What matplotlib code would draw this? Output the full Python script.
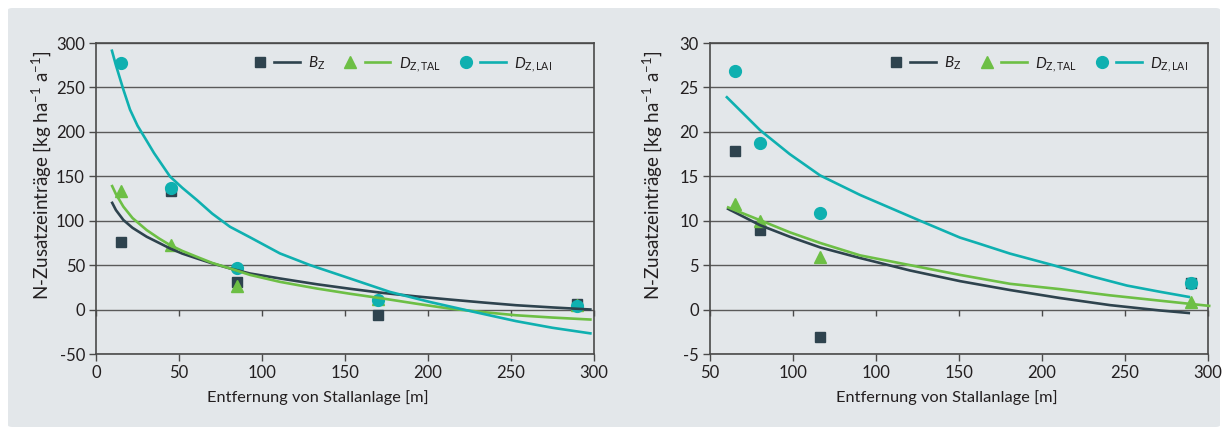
import matplotlib
matplotlib.use("Agg")
import matplotlib.pyplot as plt
from matplotlib.lines import Line2D
from matplotlib.legend_handler import HandlerTuple
from matplotlib.patches import FancyBboxPatch

plt.rcParams['font.family'] = ['Lato', 'DejaVu Sans']
plt.rcParams['mathtext.fontset'] = 'custom'
plt.rcParams['mathtext.rm'] = 'Lato'
plt.rcParams['mathtext.it'] = 'Lato:italic'
plt.rcParams['mathtext.bf'] = 'Lato:bold'
plt.rcParams['axes.unicode_minus'] = False

# ---------------- data: left panel ----------------
x_pts_left = [15, 45, 85, 170, 290]
bz_left = [76, 133, 31, -6, 6]
tal_left = [133, 73, 26, 12, 5]
lai_left = [277, 137, 47, 11, 4]

bz_curve_x_left = [9.4, 12, 16.5, 22, 30.5, 38, 44.6, 52, 60.7, 70, 80.7, 92.8, 110.8, 133, 153, 173, 193, 213, 233, 253, 275, 298.6]
bz_curve_y_left = [121.4, 112, 100.8, 92, 82, 75, 68.8, 63, 57.6, 52, 46.3, 40.6, 35, 28.5, 23.4, 18.7, 14.8, 11.3, 8, 4.9, 2.4, 0]
tal_curve_x_left = [9.4, 12, 16.5, 22, 30.5, 38, 44.6, 52, 60.7, 70, 80.7, 92.8, 110.8, 133, 153, 173, 193, 213, 233, 253, 275, 298.6]
tal_curve_y_left = [140.3, 130, 115.8, 103, 89.5, 80, 72.6, 66, 59.4, 52.5, 46.3, 39, 31.2, 23.7, 17.8, 12.4, 6.6, 1.1, -2.8, -6.4, -9, -11.3]
lai_curve_x_left = [9.4, 12, 16.5, 20.5, 25, 30.5, 35, 44.6, 52, 60.7, 70, 80.7, 92.8, 110.8, 129, 153, 177, 201, 225, 253, 275, 298.6]
lai_curve_y_left = [292.7, 275, 247.5, 225, 207, 190, 176, 149.7, 137, 123.4, 108, 93.2, 81.3, 63.2, 50, 35, 19.9, 8.6, -1.5, -13, -20.5, -27]

xticks_left = [0, 50, 100, 150, 200, 250, 300]
yticks_left = [-50, 0, 50, 100, 150, 200, 250, 300]

# ---------------- data: right panel ----------------
x_pts_right = [65, 80, 116, 340]
bz_right = [17.9, 8.9, -3.1, 3.0]
tal_right = [11.9, 10.0, 5.9, 0.9]
lai_right = [26.8, 18.7, 10.9, 3.0]

bz_curve_x_right = [60.2, 80.1, 98, 116.3, 140.4, 170.5, 200.6, 230.7, 260.8, 291, 321.1, 339.2]
bz_curve_y_right = [11.4, 9.5, 8.2, 7.0, 5.8, 4.4, 3.2, 2.2, 1.3, 0.5, -0.1, -0.4]
tal_curve_x_right = [60.2, 80.1, 98, 116.3, 140.4, 170.5, 200.6, 230.7, 260.8, 291, 321.1, 351.5]
tal_curve_y_right = [11.55, 10.06, 8.7, 7.5, 6.1, 5.0, 3.9, 2.9, 2.3, 1.6, 1.0, 0.4]
lai_curve_x_right = [59.6, 80.1, 98, 116.3, 140.4, 176.5, 200.6, 210.8, 230.7, 256.6, 280.7, 301.2, 321.1, 339.2]
lai_curve_y_right = [24.0, 20.2, 17.5, 15.1, 12.9, 10.0, 8.1, 7.5, 6.3, 5.0, 3.7, 2.7, 2.0, 1.4]

xticks_right = [50, 100, 150, 200, 250, 300, 350]
xticklabels_right = ['50', '100', '100', '150', '200', '250', '300']
yticks_right = [-5, 0, 5, 10, 15, 20, 25, 30]

legend_labels = [r'$B_{\mathrm{Z}}$', r'$D_{\mathrm{Z,TAL}}$', r'$D_{\mathrm{Z,LAI}}$']
xlabel = 'Entfernung von Stallanlage [m]'
ylabel = 'N-Zusatzeinträge [kg ha$^{-1}$ a$^{-1}$]'

# ---------------- style ----------------
C_DARK = '#2e434e'
C_GREEN = '#6dbf45'
C_CYAN = '#0fb0b0'
BG = '#e3e7ea'
GRID = '#5a5a5a'
SPINE = '#4a4a4a'
TEXT = '#231f20'

W, H = 1228, 436
fig = plt.figure(figsize=(W / 100, H / 100), dpi=100, facecolor='white')
bg = FancyBboxPatch((8 / W, 9 / H), (1212) / W, (419) / H,
                    boxstyle='round,pad=0,rounding_size=0.004',
                    transform=fig.transFigure, facecolor=BG, edgecolor='none', zorder=-10)
fig.patches.append(bg)

ax1 = fig.add_axes([96 / W, 1 - 354 / H, 498 / W, 311 / H])
ax2 = fig.add_axes([710 / W, 1 - 354 / H, 498 / W, 311 / H])
ax1.set_zorder(5)
ax2.set_zorder(5)


def style_axis(ax, xticks, yticks, ylim, xlim):
    ax.set_facecolor('none')
    ax.set_xlim(*xlim)
    ax.set_ylim(*ylim)
    ax.set_xticks(xticks)
    ax.set_yticks(yticks)
    for sp in ax.spines.values():
        sp.set_color(SPINE)
        sp.set_linewidth(1.2)
    ax.yaxis.grid(True, color=GRID, linewidth=1.0)
    ax.set_axisbelow(True)
    ax.tick_params(axis='both', direction='out', length=5, width=1.0, color=SPINE,
                   labelsize=12, labelcolor=TEXT, pad=3)
    # tick marks on the zero line
    ax.plot(xticks, [0] * len(xticks), linestyle='none', marker=3, markersize=4.2,
            markeredgewidth=1.0, color=SPINE, clip_on=False, zorder=2)


def draw(ax, xp, bz, tal, lai, cbx, cby, ctx, cty, clx, cly, tal_clip=True):
    ax.plot(xp, bz, linestyle='none', marker='s', markersize=7.5, color=C_DARK, zorder=3)
    ax.plot(xp, tal, linestyle='none', marker='^', markersize=9, color=C_GREEN, zorder=3)
    ax.plot(xp, lai, linestyle='none', marker='o', markersize=8.5, color=C_CYAN, zorder=3)
    kw = dict(linewidth=1.9, zorder=4, solid_joinstyle='round', solid_capstyle='butt')
    ax.plot(cbx, cby, color=C_DARK, **kw)
    ax.plot(ctx, cty, color=C_GREEN, clip_on=tal_clip, **kw)
    ax.plot(clx, cly, color=C_CYAN, **kw)


def legend(ax, anchor):
    handles = [
        (Line2D([], [], linestyle='none', marker='s', markersize=7.5, color=C_DARK),
         Line2D([], [], color=C_DARK, linewidth=1.9)),
        (Line2D([], [], linestyle='none', marker='^', markersize=9, color=C_GREEN),
         Line2D([], [], color=C_GREEN, linewidth=1.9)),
        (Line2D([], [], linestyle='none', marker='o', markersize=8.5, color=C_CYAN),
         Line2D([], [], color=C_CYAN, linewidth=1.9)),
    ]
    ax.legend(handles, legend_labels, handler_map={tuple: HandlerTuple(ndivide=None, pad=0.1)},
              ncol=3, loc='center left', bbox_to_anchor=anchor, frameon=False,
              handlelength=3.45, columnspacing=0.8, handletextpad=0.55, fontsize=11,
              labelcolor=TEXT, borderpad=0, borderaxespad=0)


style_axis(ax1, xticks_left, yticks_left, (-50, 300), (0, 300))
draw(ax1, x_pts_left, bz_left, tal_left, lai_left,
     bz_curve_x_left, bz_curve_y_left, tal_curve_x_left, tal_curve_y_left,
     lai_curve_x_left, lai_curve_y_left)
legend(ax1, (0.303, 0.932))

style_axis(ax2, xticks_right, yticks_right, (-5, 30), (50, 350))
ax2.set_xticklabels(xticklabels_right)
draw(ax2, x_pts_right, bz_right, tal_right, lai_right,
     bz_curve_x_right, bz_curve_y_right, tal_curve_x_right, tal_curve_y_right,
     lai_curve_x_right, lai_curve_y_right, tal_clip=False)
legend(ax2, (0.348, 0.932))

# axis labels (placed as in the reference)
fig.text(318 / W, 1 - 398 / H, xlabel, ha='center', va='center', fontsize=11.8, color=TEXT)
fig.text(947 / W, 1 - 398 / H, xlabel, ha='center', va='center', fontsize=11.8, color=TEXT)
fig.text(41 / W, 1 - 175 / H, ylabel, ha='center', va='center', rotation=90, fontsize=13.5, color=TEXT)
fig.text(652 / W, 1 - 175 / H, ylabel, ha='center', va='center', rotation=90, fontsize=13.5, color=TEXT)

fig.savefig('out.png', dpi=100, facecolor='white')
